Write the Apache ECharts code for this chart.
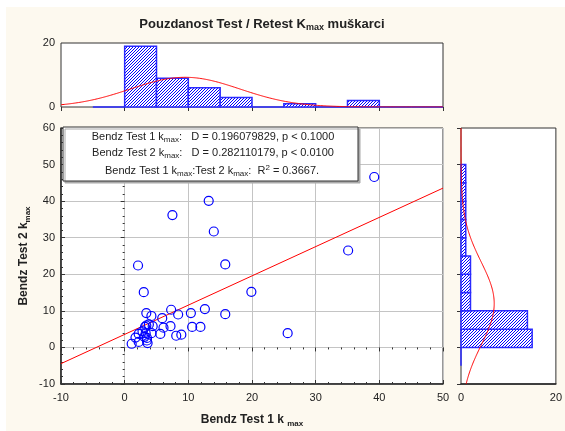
<!doctype html>
<html>
<head>
<meta charset="utf-8">
<title>Pouzdanost Test / Retest Kmax muškarci</title>
<style>
html, body { margin:0; padding:0; background:#fff; }
#chart { width:565px; height:431px; }
</style>
<script src="https://cdn.jsdelivr.net/npm/echarts@6.0.0/dist/echarts.min.js"></script>
</head>
<body>
<div id="chart"></div>
<script>
// Bendz Test 1 / Test 2 kmax, one pair per subject
var test1 = [13.2, 7.5, 14.0, 35.1, 2.1, 15.8, 3.0, 19.9, 25.6, 3.4,
             4.2, 7.3, 8.4, 10.4, 12.6, 15.8, 5.9, 3.4, 3.8, 4.4,
             7.2, 6.1, 10.6, 11.9, 3.3, 4.2, 5.6, 2.2, 1.7, 3.5,
             8.1, 8.9, 1.1, 2.2, 3.6, 39.2, 3.2, 3.5, 3.1, 2.8];
var test2 = [40.1, 36.2, 31.7, 26.5, 22.4, 22.7, 15.1, 15.2, 3.9, 9.4,
             8.6, 10.3, 9.0, 9.4, 10.5, 9.1, 8.0, 6.0, 6.3, 5.8,
             5.8, 5.4, 5.6, 5.6, 3.9, 3.9, 3.7, 3.7, 2.7, 2.6,
             3.2, 3.5, 1.0, 1.5, 1.2, 46.6, 5.6, 1.9, 2.9, 4.4];

// histogram bins (width 5, first edge -5)
var binStart = -5;
var binWidth = 5;
var test1Counts = [0, 19, 9, 6, 3, 0, 1, 0, 2, 0, 0];
var test2Counts = [0, 15, 14, 2, 2, 2, 1, 1, 1, 1, 1];

// normal fits drawn over the histograms (mean, sd)
var test1Fit = [9.5, 8.6];
var test2Fit = [12.0, 11.4];

var mainTicks = { xMin: -10, xMax: 50, yMin: -10, yMax: 60, step: 10 };

function mean(v) {
    var m = 0;
    v.forEach(function (a) { m += a; });
    return m / v.length;
}

// expected counts per bin of the fitted normal
function normalCurve(fit, n, from, to) {
    var out = [];
    for (var t = from; t <= to + 1e-9; t += 0.5) {
        var z = (t - fit[0]) / fit[1];
        out.push([t, n * binWidth * Math.exp(-z * z / 2) / (fit[1] * Math.sqrt(2 * Math.PI))]);
    }
    return out;
}

function fitLine(xs, ys) {
    var mx = mean(xs), my = mean(ys), sxy = 0, sxx = 0;
    for (var i = 0; i < xs.length; i++) {
        sxy += (xs[i] - mx) * (ys[i] - my);
        sxx += (xs[i] - mx) * (xs[i] - mx);
    }
    var b = sxy / sxx, a = my - b * mx;
    return [[mainTicks.xMin, a + b * mainTicks.xMin], [mainTicks.xMax, a + b * mainTicks.xMax]];
}

// blue dotted diagonal hatch
var cv = document.createElement('canvas');
cv.width = 3; cv.height = 3;
var cx = cv.getContext('2d');
cx.fillStyle = '#fff'; cx.fillRect(0, 0, 3, 3);
cx.fillStyle = '#0000ff';
cx.fillRect(2, 0, 1, 1); cx.fillRect(1, 1, 1, 1); cx.fillRect(0, 2, 1, 1);
var hatch = { image: cv, repeat: 'repeat' };

var topBins = test1Counts.map(function (c, i) {
    return [binStart + i * binWidth, binStart + (i + 1) * binWidth, c];
});
var sideBins = test2Counts.map(function (c, i) {
    return [c, binStart + i * binWidth, binStart + (i + 1) * binWidth];
});

var txt = '#222';
var font = 'Liberation Sans, Arial, sans-serif';
var sub = { fontSize: 8, fontFamily: font, fill: txt, verticalAlign: 'bottom', lineHeight: 8 };

var myChart = echarts.init(document.getElementById('chart'));
var option = {
    animation: false,
    backgroundColor: '#fff',
    textStyle: { fontFamily: font },
    grid: [
        { left: 61, top: 128, width: 382, height: 256, show: true, backgroundColor: '#fff', borderColor: '#333', borderWidth: 1 },
        { left: 61, top: 43, width: 382, height: 64, show: true, backgroundColor: '#fff', borderColor: '#333', borderWidth: 1 },
        { left: 461, top: 128, width: 95, height: 256, show: true, backgroundColor: '#fff', borderColor: '#333', borderWidth: 1 }
    ],
    xAxis: [
        { type: 'value', gridIndex: 0, min: mainTicks.xMin, max: mainTicks.xMax, interval: mainTicks.step,
          axisLine: { show: true, onZero: false, lineStyle: { color: '#222', width: 1.5 } },
          axisTick: { inside: true, length: 4, lineStyle: { color: '#333' } },
          minorTick: { show: true, splitNumber: 5, length: 2, lineStyle: { color: '#333' } },
          axisLabel: { color: txt, fontSize: 11, margin: 8 },
          splitLine: { show: true, lineStyle: { color: '#c4c4c4' } } },
        { type: 'value', gridIndex: 0, position: 'top', min: mainTicks.xMin, max: mainTicks.xMax, interval: mainTicks.step,
          axisLine: { show: false }, axisTick: { inside: true, length: 4, lineStyle: { color: '#333' } },
          minorTick: { show: true, splitNumber: 5, length: 2, lineStyle: { color: '#333' } },
          axisLabel: { show: false }, splitLine: { show: false } },
        { type: 'value', gridIndex: 1, position: 'top', min: mainTicks.xMin, max: mainTicks.xMax, interval: mainTicks.step,
          axisLine: { show: false }, axisTick: { inside: true, length: 4, lineStyle: { color: '#333' } },
          axisLabel: { show: false }, splitLine: { show: false } },
        { type: 'value', gridIndex: 2, min: 0, max: 20, interval: 20,
          axisLine: { show: true, onZero: false, lineStyle: { color: '#222', width: 1.5 } },
          axisTick: { show: false },
          axisLabel: { color: txt, fontSize: 11, margin: 8 }, splitLine: { show: false } }
    ],
    yAxis: [
        { type: 'value', gridIndex: 0, min: mainTicks.yMin, max: mainTicks.yMax, interval: mainTicks.step,
          axisLine: { show: true, onZero: false, lineStyle: { color: '#222', width: 1.5 } },
          axisTick: { inside: true, length: 4, lineStyle: { color: '#333' } },
          minorTick: { show: true, splitNumber: 5, length: 2, lineStyle: { color: '#333' } },
          axisLabel: { color: txt, fontSize: 11, margin: 6 },
          splitLine: { show: true, lineStyle: { color: '#c4c4c4' } } },
        { type: 'value', gridIndex: 0, position: 'right', min: mainTicks.yMin, max: mainTicks.yMax, interval: mainTicks.step,
          axisLine: { show: false }, axisTick: { inside: true, length: 4, lineStyle: { color: '#333' } },
          minorTick: { show: true, splitNumber: 5, length: 2, lineStyle: { color: '#333' } },
          axisLabel: { show: false }, splitLine: { show: false } },
        { type: 'value', gridIndex: 1, min: 0, max: 20, interval: 20,
          axisLine: { show: false }, axisTick: { show: false },
          axisLabel: { color: txt, fontSize: 11, margin: 6 }, splitLine: { show: false } },
        { type: 'value', gridIndex: 2, position: 'right', min: mainTicks.yMin, max: mainTicks.yMax, interval: mainTicks.step,
          axisLine: { show: false }, axisTick: { inside: true, length: 4, lineStyle: { color: '#333' } },
          axisLabel: { show: false }, splitLine: { show: false } }
    ],
    series: [
        { type: 'line', xAxisIndex: 0, yAxisIndex: 0, data: fitLine(test1, test2), symbol: 'none',
          lineStyle: { color: '#ff0000', width: 1 }, z: 3 },
        { type: 'scatter', xAxisIndex: 0, yAxisIndex: 0,
          data: test1.map(function (v, i) { return [v, test2[i]]; }),
          symbol: 'circle', symbolSize: 9,
          itemStyle: { color: 'transparent', borderColor: '#0000ff', borderWidth: 1.2, opacity: 1 }, z: 4 },
        { type: 'custom', xAxisIndex: 2, yAxisIndex: 2, data: topBins, encode: { x: [0, 1], y: 2 },
          renderItem: function (params, api) {
              var a = api.coord([api.value(0), api.value(2)]);
              var b = api.coord([api.value(1), 0]);
              return { type: 'rect', shape: { x: a[0], y: a[1], width: b[0] - a[0], height: b[1] - a[1] },
                       style: { fill: hatch, stroke: '#2a2aff', lineWidth: 1.5 } };
          }, z: 2 },
        { type: 'line', xAxisIndex: 2, yAxisIndex: 2, data: normalCurve(test1Fit, test1.length, -10, 50), symbol: 'none',
          smooth: true, lineStyle: { color: '#ff0000', width: 1 }, z: 3 },
        { type: 'custom', xAxisIndex: 3, yAxisIndex: 3, data: sideBins, encode: { x: 0, y: [1, 2] },
          renderItem: function (params, api) {
              var a = api.coord([0, api.value(2)]);
              var b = api.coord([api.value(0), api.value(1)]);
              return { type: 'rect', shape: { x: a[0], y: a[1], width: b[0] - a[0], height: b[1] - a[1] },
                       style: { fill: hatch, stroke: '#2a2aff', lineWidth: 1.5 } };
          }, z: 2 },
        { type: 'line', xAxisIndex: 3, yAxisIndex: 3,
          data: normalCurve(test2Fit, test2.length, -10, 60).map(function (p) { return [p[1], p[0]]; }),
          symbol: 'none', smooth: true, lineStyle: { color: '#ff0000', width: 1 }, z: 3 }
    ],
    graphic: [
        { type: 'rect', left: 6, top: 7, z: -10, silent: true,
          shape: { width: 559, height: 424 }, style: { fill: '#fdf9ef' } },
        { type: 'text', x: 262, y: 24, z: 10,
          style: { text: '{a|Pouzdanost Test / Retest K}{s|max}{a| muškarci}', align: 'center', verticalAlign: 'middle',
                   rich: { a: { fontSize: 13, fontWeight: 'bold', fontFamily: font, fill: txt, lineHeight: 16 },
                           s: { fontSize: 9, fontWeight: 'bold', fontFamily: font, fill: txt, verticalAlign: 'bottom', lineHeight: 9 } } } },
        { type: 'rect', x: 63, y: 127, z: 20,
          shape: { width: 295, height: 54 },
          style: { fill: '#fff', stroke: '#333', lineWidth: 1, shadowColor: '#aaa', shadowOffsetX: 2, shadowOffsetY: 2 } },
        { type: 'text', x: 213, y: 137, z: 21,
          style: { text: '{a|Bendz Test 1 k}{s|max}{a|:   D = 0.196079829, p < 0.1000}', align: 'center', verticalAlign: 'middle',
                   rich: { a: { fontSize: 11, fontFamily: font, fill: txt, lineHeight: 14 }, s: sub } } },
        { type: 'text', x: 213, y: 153, z: 21,
          style: { text: '{a|Bendz Test 2 k}{s|max}{a|:   D = 0.282110179, p < 0.0100}', align: 'center', verticalAlign: 'middle',
                   rich: { a: { fontSize: 11, fontFamily: font, fill: txt, lineHeight: 14 }, s: sub } } },
        { type: 'text', x: 212, y: 171, z: 21,
          style: { text: '{a|Bendz Test 1 k}{s|max}{a|:Test 2 k}{s|max}{a|:  R}{p|2}{a| = 0.3667.}', align: 'center', verticalAlign: 'middle',
                   rich: { a: { fontSize: 11, fontFamily: font, fill: txt, lineHeight: 14 }, s: sub,
                           p: { fontSize: 8, fontFamily: font, fill: txt, verticalAlign: 'top', lineHeight: 8 } } } },
        { type: 'text', x: 252, y: 420, z: 10,
          style: { text: '{a|Bendz Test 1 k }{s|max}', align: 'center', verticalAlign: 'middle',
                   rich: { a: { fontSize: 12, fontWeight: 'bold', fontFamily: font, fill: txt, lineHeight: 15 },
                           s: { fontSize: 8, fontWeight: 'bold', fontFamily: font, fill: txt, verticalAlign: 'bottom', lineHeight: 8 } } } },
        { type: 'text', x: 24, y: 256, rotation: Math.PI / 2, z: 10,
          style: { text: '{a|Bendz Test 2 k}{s|max}', align: 'center', verticalAlign: 'middle',
                   rich: { a: { fontSize: 12, fontWeight: 'bold', fontFamily: font, fill: txt, lineHeight: 15 },
                           s: { fontSize: 8, fontWeight: 'bold', fontFamily: font, fill: txt, verticalAlign: 'bottom', lineHeight: 8 } } } }
    ]
};
myChart.setOption(option);
</script>
</body>
</html>
